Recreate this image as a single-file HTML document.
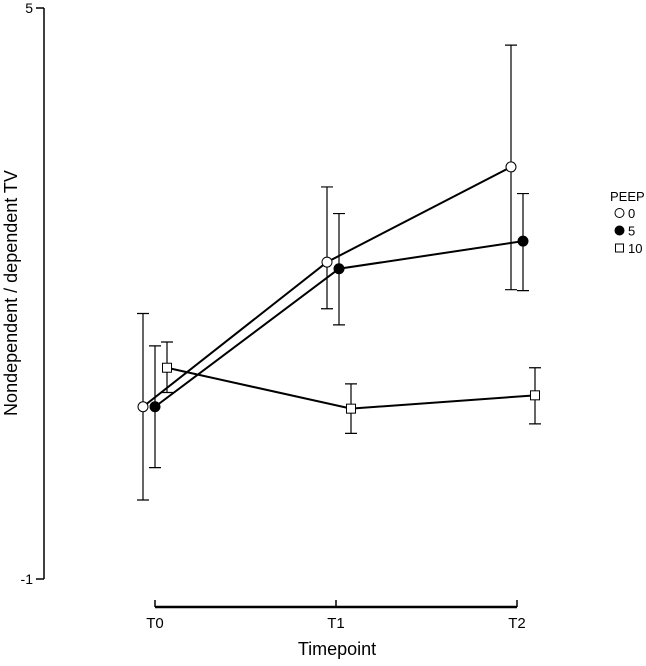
<!DOCTYPE html>
<html><head><meta charset="utf-8"><style>
body{margin:0;background:#fff}
svg text{font-family:"Liberation Sans",sans-serif;fill:#000}
</style></head><body>
<svg id="c" width="646" height="661" xmlns="http://www.w3.org/2000/svg">
<g id="axes"></g>
<g id="marks"></g>
<g id="legend"></g>
</svg>
<script>
const categories=["T0","T1","T2"];
const groups=["0","5","10"];
const peep0=[0.81,2.33,3.33];
const peep0Lo=[-0.17,1.84,2.04];
const peep0Hi=[1.79,3.12,4.61];
const peep5=[0.81,2.26,2.55];
const peep5Lo=[0.17,1.67,2.03];
const peep5Hi=[1.45,2.84,3.05];
const peep10=[1.22,0.79,0.93];
const peep10Lo=[0.96,0.53,0.63];
const peep10Hi=[1.49,1.05,1.22];
const yTicks=[-1,5];

const NS="http://www.w3.org/2000/svg";
function y(v){return 579-(v+1)*(571/6);}
function x(i){return 155+i*181;}
function px(i,si){return 143+si*12+i*184;}
function mk(tag,attrs,parent){const e=document.createElementNS(NS,tag);for(const k in attrs)e.setAttribute(k,attrs[k]);parent.appendChild(e);return e;}
const axes=document.getElementById('axes'),marks=document.getElementById('marks'),legend=document.getElementById('legend');

let ya=mk('line',{x1:44,x2:44,y1:y(5),y2:y(-1),stroke:'#000','stroke-width':1.5},axes);


yTicks.forEach(t=>{
  let l=mk('line',{x1:36,x2:44,y1:y(t),y2:y(t),stroke:'#000','stroke-width':1.5},axes);
  
  
  let tx=mk('text',{x:33,y:y(t)+5,'text-anchor':'end','font-size':14},axes);tx.textContent=t;
  
  
});
let yt=mk('text',{x:0,y:0,'text-anchor':'middle','font-size':18,transform:'translate(17,293) rotate(-90)'},axes);yt.textContent='Nondependent / dependent TV';



let xa=mk('line',{x1:x(0),x2:x(2),y1:607,y2:607,stroke:'#000','stroke-width':2.5},axes);


categories.forEach((c,i)=>{
  let l=mk('line',{x1:x(i),x2:x(i),y1:600,y2:607,stroke:'#000','stroke-width':1.5},axes);
  
  
  let tx=mk('text',{x:x(i),y:628,'text-anchor':'middle','font-size':15},axes);tx.textContent=c;
  
  
});
let xt=mk('text',{x:337,y:655,'text-anchor':'middle','font-size':18},axes);xt.textContent='Timepoint';



const series=[[peep0,peep0Lo,peep0Hi,'open'],[peep5,peep5Lo,peep5Hi,'filled'],[peep10,peep10Lo,peep10Hi,'square']];
function marker(type,cx,cy,parent){
  let m;
  if(type==='square') m=mk('rect',{x:cx-4.5,y:cy-4.5,width:9,height:9,fill:'#fff',stroke:'#000','stroke-width':1},parent);
  else m=mk('circle',{cx:cx,cy:cy,r:5,fill:type==='filled'?'#000':'#fff',stroke:'#000','stroke-width':1},parent);
  return m;
}
series.forEach((s,si)=>{
  const [v,lo,hi,type]=s;
  const g=mk('g',{},marks);
  
  
  const pts=v.map((d,i)=>px(i,si)+','+y(d)).join(' ');
  let pl=mk('polyline',{points:pts,fill:'none',stroke:'#000','stroke-width':2},g);
  
  
  v.forEach((d,i)=>{
    const cx=px(i,si);
    let eb=mk('path',{d:`M${cx},${y(lo[i])}V${y(hi[i])}M${cx-6},${y(lo[i])}H${cx+6}M${cx-6},${y(hi[i])}H${cx+6}`,stroke:'#000','stroke-width':1.2,fill:'none'},g);
    
    
  });
  v.forEach((d,i)=>{
    let m=marker(type,px(i,si),y(d),g);
    
    
  });
});

let lt=mk('text',{x:610,y:201,'font-size':13},legend);lt.textContent='PEEP';


['open','filled','square'].forEach((t,i)=>{
  const cy=213+i*17.5;
  const g=mk('g',{},legend);
  
  
  if(t==='square') mk('rect',{x:615.5,y:cy-4,width:8,height:8,fill:'#fff',stroke:'#000','stroke-width':1},g);
  else mk('circle',{cx:619.5,cy:cy,r:4.5,fill:t==='filled'?'#000':'#fff',stroke:'#000','stroke-width':1},g);
  let tx=mk('text',{x:628,y:cy+5,'font-size':13},g);tx.textContent=groups[i];
});
</script>
</body></html>
